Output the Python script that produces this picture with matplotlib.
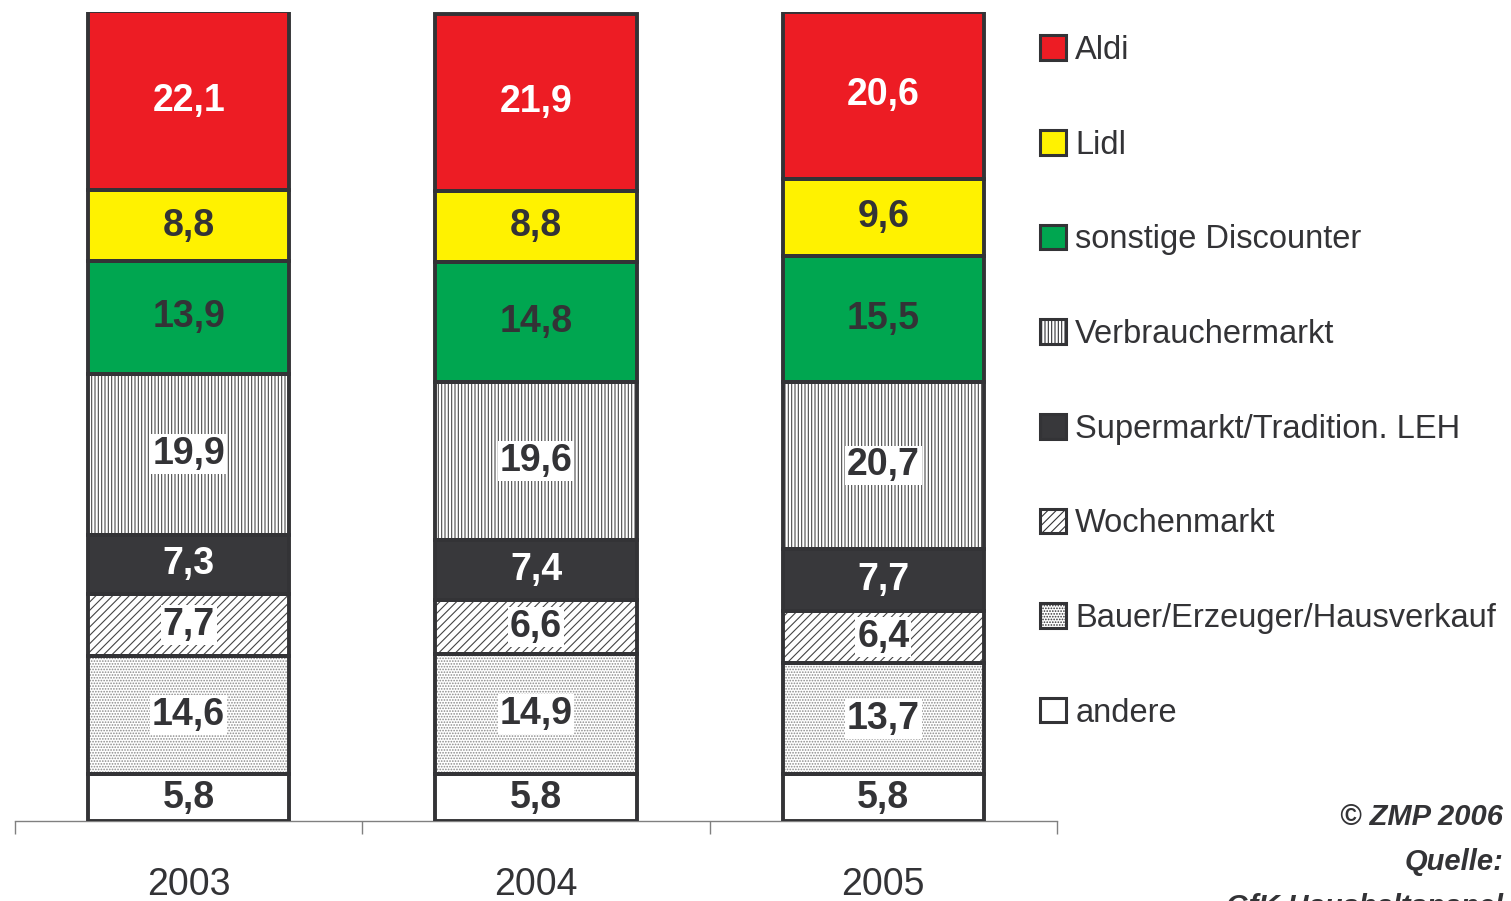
import matplotlib
matplotlib.use("Agg")
import matplotlib.pyplot as plt
from matplotlib.patches import Patch
import numpy as np

plt.rcParams["font.family"] = ["Liberation Sans", "DejaVu Sans"]
plt.rcParams["hatch.linewidth"] = 0.8

years = ["2003", "2004", "2005"]
# von unten nach oben gestapelt
segments = ["andere", "Bauer/Erzeuger/Hausverkauf", "Wochenmarkt",
            "Supermarkt/Tradition. LEH", "Verbrauchermarkt",
            "sonstige Discounter", "Lidl", "Aldi"]
andere = [5.8, 5.8, 5.8]
bauer = [14.6, 14.9, 13.7]
wochenmarkt = [7.7, 6.6, 6.4]
supermarkt = [7.3, 7.4, 7.7]
verbraucher = [19.9, 19.6, 20.7]
sonstige = [13.9, 14.8, 15.5]
lidl = [8.8, 8.8, 9.6]
aldi = [22.1, 21.9, 20.6]
values = [andere, bauer, wochenmarkt, supermarkt, verbraucher, sonstige, lidl, aldi]

dark = "#333336"
faces = ["white", "white", "white", "#38383b", "white", "#00a650", "#fff200", "#ed1c24"]
hatches = [None, "......", "////", None, "|||||", None, None, None]
hatch_cols = ["white", "#8a8a8a", "#444444", "#38383b", "#4a4a4a", "#00a650", "#fff200", "#ed1c24"]
label_cols = [dark, dark, dark, "white", dark, dark, dark, "white"]
label_box = [False, True, True, False, True, False, False, False]

fig = plt.figure(figsize=(15.11, 9.01), dpi=100)
ax = fig.add_axes([15 / 1511, 1 - 821 / 901, 1042 / 1511, 809 / 901])

x = np.arange(len(years))
width = 0.58
bottom = np.zeros(len(years))
for i, vals in enumerate(values):
    vals = np.array(vals)
    ax.bar(x, vals, width, bottom=bottom, color=faces[i], hatch=hatches[i],
           edgecolor=hatch_cols[i], linewidth=0, zorder=2)
    ax.bar(x, vals, width, bottom=bottom, fill=False, edgecolor=dark,
           linewidth=2.8, zorder=3)
    for xi, v, b in zip(x, vals, bottom):
        txt = f"{v:.1f}".replace(".", ",")
        kw = {}
        if label_box[i]:
            kw["bbox"] = dict(boxstyle="square,pad=0.05", fc="white", ec="none")
        ax.text(xi, b + v / 2, txt, ha="center", va="center", fontsize=27,
                fontweight="bold", color=label_cols[i], zorder=4, **kw)
    bottom += vals

ax.set_xlim(-0.5, 2.5)
ax.set_ylim(0, 100)
for s in ["top", "right", "left"]:
    ax.spines[s].set_visible(False)
ax.spines["bottom"].set_color("#808080")
ax.spines["bottom"].set_linewidth(1)
ax.set_yticks([])
ax.set_xticks(x)
ax.set_xticklabels(years, fontsize=27, color=dark)
ax.tick_params(axis="x", which="major", length=0, pad=33)
ax.set_xticks([-0.5, 0.5, 1.5, 2.5], minor=True)
ax.tick_params(axis="x", which="minor", length=9, color="#808080", width=1)

handles = []
for i in range(len(segments) - 1, -1, -1):
    handles.append(Patch(facecolor=faces[i], hatch=hatches[i], edgecolor=dark,
                         linewidth=2.2, label=segments[i]))
fig.legend(handles=handles, loc="upper left", bbox_to_anchor=(1027 / 1511, 1 - 22 / 901),
           frameon=False, fontsize=23.5, handlelength=0.78, handleheight=0.78,
           handletextpad=0.3, labelspacing=1.95, labelcolor=dark, borderaxespad=0)

fig.text(1503 / 1511, 1 - 817 / 901, "© ZMP 2006", ha="right", va="center",
         fontsize=21, fontweight="bold", fontstyle="italic", color=dark)
fig.text(1503 / 1511, 1 - 862 / 901, "Quelle:", ha="right", va="center",
         fontsize=21, fontweight="bold", fontstyle="italic", color=dark)
fig.text(1503 / 1511, 1 - 907 / 901, "GfK Haushaltspanel", ha="right", va="center",
         fontsize=21, fontweight="bold", fontstyle="italic", color=dark)

fig.savefig("out.png", dpi=100)
